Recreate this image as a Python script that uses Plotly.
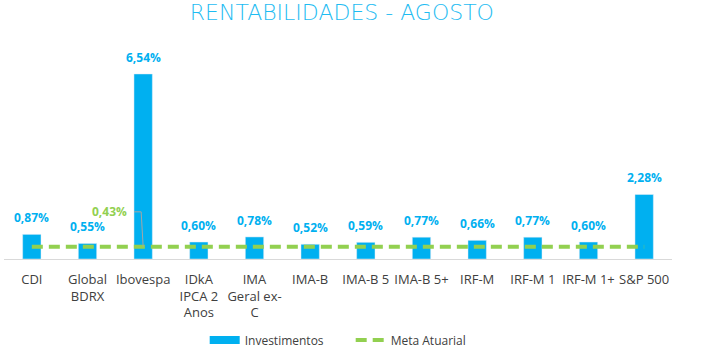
import plotly.graph_objects as go

categories = ["CDI", "Global<br>BDRX", "Ibovespa", "IDkA<br>IPCA 2<br>Anos", "IMA<br>Geral ex-<br>C",
              "IMA-B", "IMA-B 5", "IMA-B 5+", "IRF-M", "IRF-M 1", "IRF-M 1+", "S&P 500"]
investimentos = [0.87, 0.55, 6.54, 0.60, 0.78, 0.52, 0.59, 0.77, 0.66, 0.77, 0.60, 2.28]
meta_atuarial = [0.43] * len(categories)

BLUE = "#00b0f0"
GREEN = "#92d050"

def fmt(v):
    return f"{v:.2f}".replace(".", ",") + "%"

fig = go.Figure()
fig.add_trace(go.Bar(x=categories, y=investimentos, name="Investimentos",
                     marker_color=BLUE, hoverinfo="skip", showlegend=False))
# legend proxy for the bars (wide rectangle swatch)
fig.add_trace(go.Scatter(x=[None], y=[None], name="Investimentos", mode="lines",
                         line=dict(color=BLUE, width=8), hoverinfo="skip"))
fig.add_trace(go.Scatter(x=categories, y=meta_atuarial, name="Meta Atuarial", mode="lines",
                         line=dict(color=GREEN, width=4, dash="11px,6px"), hoverinfo="skip"))

for c, v in zip(categories, investimentos):
    fig.add_annotation(x=c, y=v, text=fmt(v), showarrow=False, yanchor="bottom", yshift=6,
                       font=dict(family="Open Sans", size=12, color=BLUE, weight="bold"))

# Meta label with elbow leader line
fig.add_annotation(x=categories[2], y=meta_atuarial[2], text=fmt(meta_atuarial[2]),
                   showarrow=False, xanchor="right", yanchor="middle", xshift=-14, yshift=35,
                   font=dict(family="Open Sans", size=12, color=GREEN, weight="bold"))
fig.add_shape(type="path", xref="x", yref="y", xsizemode="pixel", ysizemode="pixel",
              xanchor=2, yanchor=meta_atuarial[2],
              path="M -9,35 L -2,35 L 0,0", line=dict(color="#a6a6a6", width=1))

fig.update_layout(
    width=702, height=354,
    margin=dict(l=4, r=30, t=40, b=95, autoexpand=False),
    paper_bgcolor="white", plot_bgcolor="white",
    bargap=0.67,
    title=dict(text="RENTABILIDADES - AGOSTO", x=0.487, xanchor="center", y=0.965, yanchor="middle",
               font=dict(family="DejaVu Sans", size=22, color="#1ebcf2", weight=300)),
    xaxis=dict(showline=True, linecolor="#d9d9d9", linewidth=1, ticks="", showgrid=False,
               automargin=False, ticklabelstandoff=8,
               tickfont=dict(family="Open Sans", size=13, color="#404040")),
    yaxis=dict(visible=False, range=[0, 7.74], showgrid=False, automargin=False),
    legend=dict(orientation="h", x=0.519, xanchor="center", y=-0.37, yanchor="middle",
                entrywidth=101, font=dict(family="Open Sans", size=12, color="#404040")),
    showlegend=True,
)

fig.write_html("out.html")
